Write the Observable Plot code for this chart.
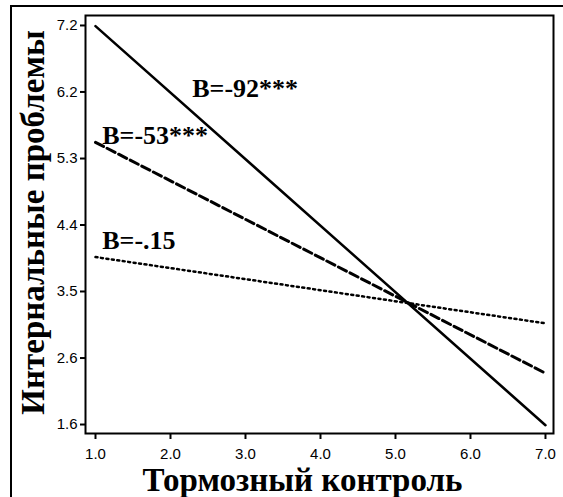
<!DOCTYPE html>
<html>
<head>
<meta charset="utf-8">
<script src="https://cdn.jsdelivr.net/npm/d3@7"></script>
<script src="https://cdn.jsdelivr.net/npm/@observablehq/plot@0.6"></script>
<style>
  html, body { margin: 0; padding: 0; background: white; }
  #wrap { position: relative; width: 563px; height: 497px; overflow: hidden; }
  #outer { position: absolute; left: 10px; top: 5px; width: 600px; height: 600px;
           border-top: 2px solid black; border-left: 2px solid black; pointer-events: none; }
</style>
</head>
<body>
<div id="wrap"><div id="outer"></div></div>
<script>
// ---- data ----
const xTicks = [1.0, 2.0, 3.0, 4.0, 5.0, 6.0, 7.0];
const yTicks = [1.6, 2.533, 3.467, 4.4, 5.333, 6.267, 7.2];
const yTickLabels = ["1.6", "2.6", "3.5", "4.4", "5.3", "6.2", "7.2"];

const xValues = [1.0, 7.0];
const solidY = [7.19, 1.59];   // B=-.92***
const dashedY = [5.56, 2.32];  // B=-.53***
const dottedY = [3.95, 3.02];  // B=-.15

const labelTexts = ["B=-92***", "B=-53***", "B=-.15"];
const labelX = [2.29, 1.09, 1.09];
const labelY = [6.20, 5.53, 4.06];

const xTitle = "Тормозный контроль";
const yTitle = "Интернальные проблемы";

// ---- tables ----
const mk = ys => xValues.map((x, i) => ({x, y: ys[i]}));
const labels = labelTexts.map((t, i) => ({t, x: labelX[i], y: labelY[i]}));
const yLabelMap = new Map(yTicks.map((v, i) => [v, yTickLabels[i]]));

const serif = "'Liberation Serif', 'Times New Roman', serif";

const chart = Plot.plot({
  width: 563,
  height: 497,
  marginLeft: 85,
  marginRight: 10,
  marginTop: 15,
  marginBottom: 64,
  style: { fontFamily: "'Liberation Sans', Arial, sans-serif", fontSize: "15px", background: "transparent", overflow: "visible" },
  x: { domain: [0.8667, 7.107] },
  y: { domain: [1.474, 7.340] },
  marks: [
    Plot.axisX({ ticks: xTicks, tickFormat: d => d.toFixed(1), tickSize: 6, tickPadding: 9, strokeWidth: 2, label: null }),
    Plot.axisY({ ticks: yTicks, tickFormat: d => yLabelMap.get(d), tickSize: 5, tickPadding: 3, strokeWidth: 2, label: null }),
    Plot.frame({ strokeWidth: 2 }),
    Plot.line(mk(solidY), { x: "x", y: "y", stroke: "black", strokeWidth: 2.5 }),
    Plot.line(mk(dashedY), { x: "x", y: "y", stroke: "black", strokeWidth: 3, strokeDasharray: "9,4" }),
    Plot.line(mk(dottedY), { x: "x", y: "y", stroke: "black", strokeWidth: 2.5, strokeDasharray: "2,3.5" }),
    Plot.text(labels, { x: "x", y: "y", text: "t", textAnchor: "start", lineAnchor: "bottom",
      fontFamily: serif, fontWeight: "bold", fontSize: 26, fill: "black" }),
    Plot.text([xTitle], { text: d => d, frameAnchor: "bottom", lineAnchor: "bottom", textAnchor: "middle", dx: -17, dy: 57,
      fontFamily: serif, fontWeight: "bold", fontSize: 33, fill: "black" }),
    Plot.text([yTitle], { text: d => d, frameAnchor: "left", lineAnchor: "bottom", textAnchor: "middle", rotate: -90, dx: -42, dy: -2,
      fontFamily: serif, fontWeight: "bold", fontSize: 33, fill: "black" })
  ]
});
chart.style.position = "absolute";
chart.style.left = "0px";
chart.style.top = "0px";
document.getElementById("wrap").appendChild(chart);
</script>
</body>
</html>
